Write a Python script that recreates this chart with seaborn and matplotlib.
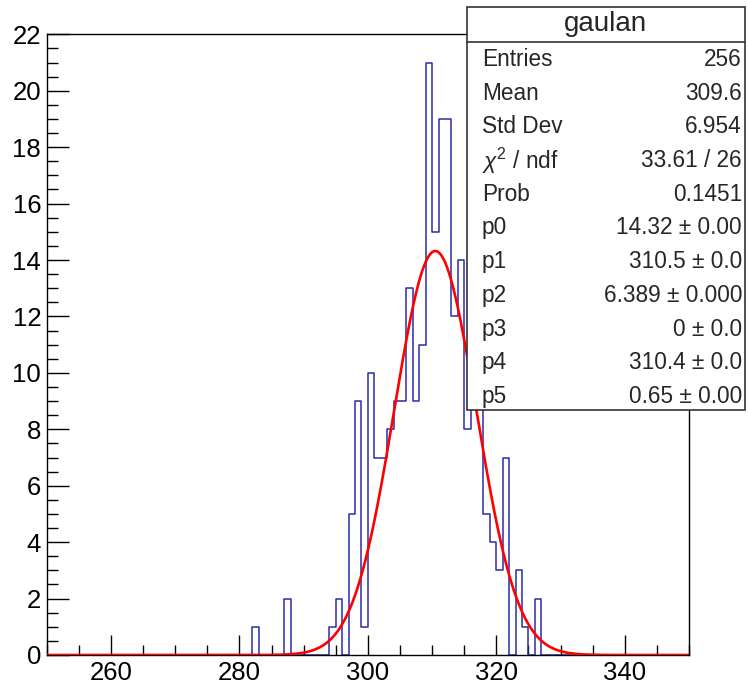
import numpy as np
import pandas as pd
import matplotlib
matplotlib.use("Agg")
import matplotlib.pyplot as plt
from matplotlib.patches import Rectangle
from matplotlib.lines import Line2D
from matplotlib.ticker import MultipleLocator
import seaborn as sns

# -----------------------------
# Data
# -----------------------------
bin_low = [282, 287, 294, 295, 297, 298, 299, 300, 301, 302, 303, 304, 305,
           306, 307, 308, 309, 310, 311, 312, 313, 314, 315, 316, 317, 318,
           319, 320, 321, 323, 324, 326]
counts = [1, 2, 1, 2, 5, 9, 1, 10, 7, 7, 8, 9, 9,
          13, 9, 11, 21, 15, 19, 19, 12, 14, 8, 10, 9, 5,
          4, 3, 7, 3, 1, 2]

x_min, x_max, bin_width = 250, 350, 1

# fit parameters (gaussian + landau, landau amplitude is 0)
p0, p1, p2 = 14.32, 310.5, 6.389

stat_labels = ["Entries", "Mean", "Std Dev", r"$\chi^{2}$ / ndf", "Prob",
               "p0", "p1", "p2", "p3", "p4", "p5"]
stat_values = ["256", "309.6", "6.954", "33.61 / 26", "0.1451",
               "14.32 \u00b1 0.00", "310.5 \u00b1 0.0", "6.389 \u00b1 0.000",
               "0 \u00b1 0.0", "310.4 \u00b1 0.0", "0.65 \u00b1 0.00"]

# -----------------------------
# Style
# -----------------------------
sns.set_theme(style="ticks")
plt.rcParams["font.family"] = ["Liberation Sans", "DejaVu Sans"]
plt.rcParams["mathtext.fontset"] = "custom"
plt.rcParams["mathtext.rm"] = "Liberation Sans"
plt.rcParams["mathtext.it"] = "Liberation Sans:italic"

W, H = 748, 685
fig = plt.figure(figsize=(W / 100, H / 100), dpi=100)
ax = fig.add_axes([46.7 / W, 1 - 655 / H, (689 - 46.7) / W, (655 - 34.3) / H])

df = pd.DataFrame({"x": np.array(bin_low) + 0.5, "n": counts})
sns.histplot(data=df, x="x", weights="n", binwidth=bin_width,
             binrange=(x_min, x_max), element="step",
             fill=False, color="#2b2ba8", linewidth=1.1, ax=ax)

# fit curve
xf = np.linspace(x_min, x_max, 1000)
yf = p0 * np.exp(-0.5 * ((xf - p1) / p2) ** 2)
ax.plot(xf, yf, color="#ff0000", linewidth=1.9, zorder=3)

ax.set_xlim(x_min, x_max)
ax.set_ylim(0, 22)
ax.set_xlabel("")
ax.set_ylabel("")

ax.xaxis.set_major_locator(MultipleLocator(20))
ax.xaxis.set_minor_locator(MultipleLocator(5))
ax.yaxis.set_major_locator(MultipleLocator(2))
ax.yaxis.set_minor_locator(MultipleLocator(0.5))
ax.tick_params(axis="both", which="both", direction="in", color="black",
               width=1, labelsize=18.5, labelcolor="black")
ax.tick_params(axis="y", which="major", length=15.5, pad=4)
ax.tick_params(axis="y", which="minor", length=7.7)
ax.tick_params(axis="x", which="major", length=14.4, pad=4)
ax.tick_params(axis="x", which="minor", length=7.2)
for s in ax.spines.values():
    s.set_color("black")
    s.set_linewidth(1.0)
    s.set_visible(True)

# -----------------------------
# Stats box
# -----------------------------
bx0, bx1, by0, by1 = 466.5, 745, 6.5, 409.5
fig.patches.append(Rectangle((bx0 / W, 1 - by1 / H), (bx1 - bx0) / W, (by1 - by0) / H,
                             transform=fig.transFigure, facecolor="white",
                             edgecolor="#333333", linewidth=1.2, zorder=10))
fig.lines.append(Line2D([bx0 / W, bx1 / W], [1 - 41.7 / H, 1 - 41.7 / H],
                        transform=fig.transFigure, color="#333333",
                        linewidth=1.2, zorder=11))
fig.text((bx0 + bx1) / 2 / W, 1 - 24 / H, "gaulan", ha="center", va="center",
         fontsize=20, zorder=12)
for i, (lab, val) in enumerate(zip(stat_labels, stat_values)):
    yy = 1 - (59.5 + i * 33.7) / H
    fig.text(482 / W, yy, lab, ha="left", va="center", fontsize=16.3, zorder=12)
    fig.text(742 / W, yy, val, ha="right", va="center", fontsize=16.3, zorder=12)

fig.savefig("out.png", dpi=100)
